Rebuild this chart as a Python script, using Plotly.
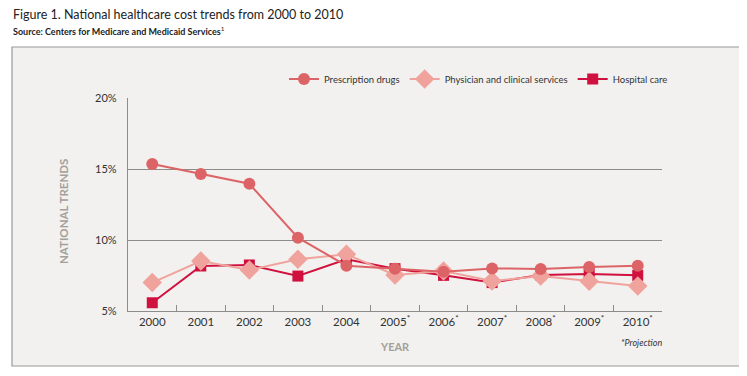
import plotly.graph_objects as go

years = ["2000", "2001", "2002", "2003", "2004", "2005", "2006", "2007", "2008", "2009", "2010"]
tick_text = ["2000", "2001", "2002", "2003", "2004", "2005<sup>*</sup>", "2006<sup>*</sup>",
             "2007<sup>*</sup>", "2008<sup>*</sup>", "2009<sup>*</sup>", "2010<sup>*</sup>"]
prescription = [15.35, 14.65, 13.96, 10.16, 8.19, 7.98, 7.77, 8.0, 7.96, 8.1, 8.19]
physician = [7.0, 8.52, 7.89, 8.64, 8.99, 7.54, 7.82, 7.11, 7.46, 7.09, 6.76]
hospital = [5.58, 8.17, 8.24, 7.46, 8.64, 7.98, 7.51, 7.0, 7.54, 7.61, 7.51]
y_ticks = [5, 10, 15, 20]
y_tick_text = ["5%", "10%", "15%", "20%"]

FONT = "Lato, 'Open Sans', sans-serif"
W, H = 747, 376
OFF = 8  # page body margin
L, R, T, B = 128 - OFF, 662 - OFF, 98 - OFF, 311 - OFF
PW, PH = R - L, B - T


def px(x):
    return (x - OFF - L) / PW


def py(y):
    return (B - (y - OFF)) / PH


fig = go.Figure()
fig.add_trace(go.Scatter(x=years, y=hospital, name="Hospital care", mode="lines+markers",
                         line=dict(color="#d0103e", width=2),
                         marker=dict(symbol="square", size=11, color="#d0103e")))
fig.add_trace(go.Scatter(x=years, y=physician, name="Physician and clinical services", mode="lines+markers",
                         line=dict(color="#f0a39c", width=2),
                         marker=dict(symbol="diamond", size=15, color="#f0a39c")))
fig.add_trace(go.Scatter(x=years, y=prescription, name="Prescription drugs", mode="lines+markers",
                         line=dict(color="#dd6466", width=2),
                         marker=dict(symbol="circle", size=12, color="#dd6466")))

fig.update_layout(
    width=W, height=H,
    margin=dict(l=L, r=W - R, t=T, b=H - B, autoexpand=False),
    paper_bgcolor="white", plot_bgcolor="rgba(0,0,0,0)",
    font=dict(family=FONT, size=11, color="#333333"),
    showlegend=True,
    legend=dict(orientation="h", traceorder="reversed", x=(284 - OFF) / W, xanchor="left",
                xref="container",
                y=1 - (79 - OFF) / H, yref="container", yanchor="middle",
                font=dict(size=9.5, color="#333333"), bgcolor="rgba(0,0,0,0)",
                itemwidth=30, tracegroupgap=0),
    xaxis=dict(type="category", range=[-0.5, 10.5], tickson="boundaries",
               tickvals=years, ticktext=tick_text,
               ticks="inside", ticklen=6, tickcolor="#8c8c8c", tickwidth=1,
               showline=True, linecolor="#8c8c8c", linewidth=1.2, showgrid=False,
               tickfont=dict(size=11.5, color="#333333")),
    yaxis=dict(range=[5, 20], tickvals=y_ticks, ticktext=y_tick_text,
               showline=True, linecolor="#8c8c8c", linewidth=1.2,
               showgrid=True, gridcolor="#8c8c8c", gridwidth=1.2,
               zeroline=False, ticks="", ticklabelstandoff=8,
               tickfont=dict(size=11, color="#333333")),
)

# outer box
fig.add_shape(type="rect", xref="paper", yref="paper",
              x0=px(12), x1=px(742), y0=py(366), y1=py(47),
              line=dict(color="#9a9a9a", width=1.2), fillcolor="#f2f1ef", layer="below")

fig.add_annotation(text="Figure 1. National healthcare cost trends from 2000 to 2010",
                   xref="paper", yref="paper", x=px(11), y=py(15),
                   xanchor="left", yanchor="middle", showarrow=False,
                   font=dict(size=12.5, color="#222222", family=FONT))
fig.add_annotation(text="<b>Source: Centers for Medicare and Medicaid Services</b><sup>1</sup>",
                   xref="paper", yref="paper", x=px(11), y=py(31),
                   xanchor="left", yanchor="middle", showarrow=False,
                   font=dict(size=9, color="#222222", family=FONT))
fig.add_annotation(text="<b>NATIONAL TRENDS</b>", textangle=-90,
                   xref="paper", yref="paper", x=px(63), y=py(212),
                   xanchor="center", yanchor="middle", showarrow=False,
                   font=dict(size=11.5, color="#a59f99", family=FONT))
fig.add_annotation(text="<b>YEAR</b>",
                   xref="paper", yref="paper", x=px(395), y=py(346),
                   xanchor="center", yanchor="middle", showarrow=False,
                   font=dict(size=11, color="#a59f99", family=FONT))
fig.add_annotation(text="<i>*Projection</i>",
                   xref="paper", yref="paper", x=px(664), y=py(342),
                   xanchor="right", yanchor="middle", showarrow=False,
                   font=dict(size=9, color="#333333", family=FONT))

fig.write_html("out.html")
